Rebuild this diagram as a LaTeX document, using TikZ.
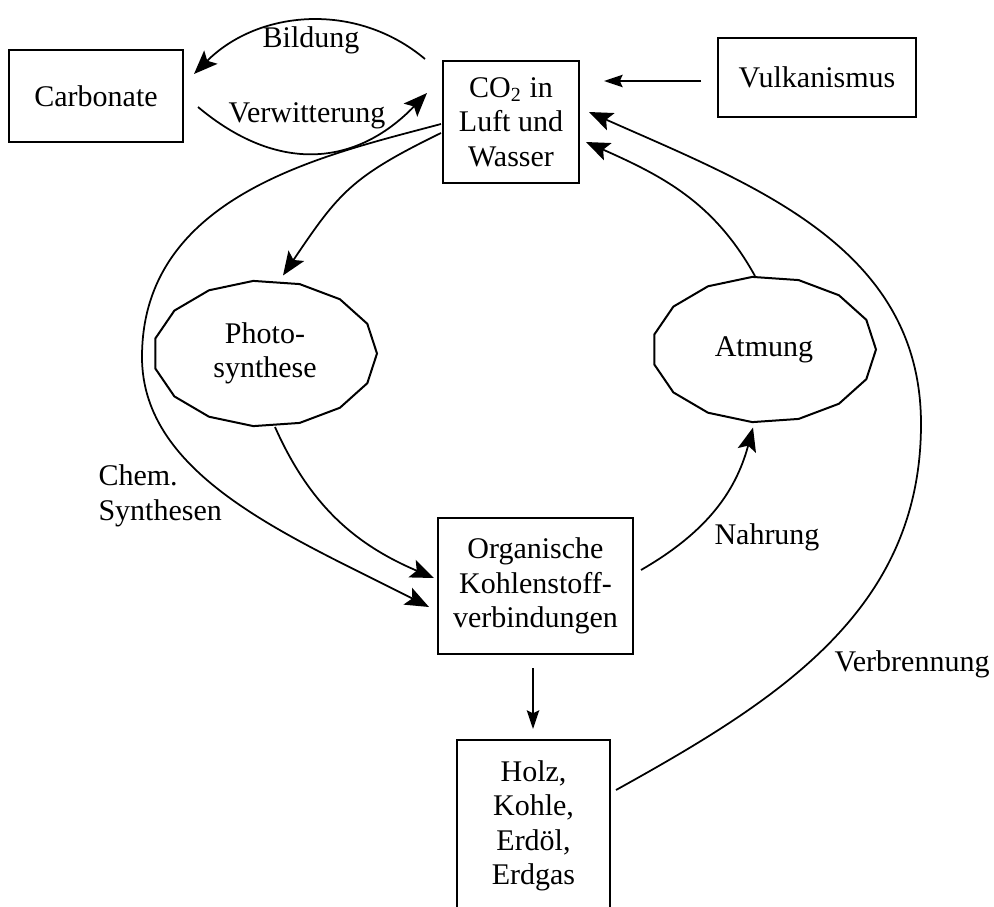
\documentclass[tikz,border=0pt]{standalone}
\usepackage{fontspec}
\setmainfont{Liberation Serif}
\usetikzlibrary{arrows.meta, shapes.geometric}

\begin{document}
\begin{tikzpicture}[x=0.4pt, y=-0.4pt, font=\fontsize{12}{13.8}\selectfont,
		box/.style={draw, line width=0.8pt, inner sep=0pt, align=center},
		blob/.style={ellipse, minimum width=89.6pt, minimum height=58.4pt, inner sep=0pt, align=center},
		lbl/.style={inner sep=0pt, align=left},
		arr/.style={-{Stealth[length=9.5pt, width=7.5pt, inset=2pt]}, line width=0.7pt},
		sarr/.style={-{Stealth[length=7.5pt, width=5pt, inset=1.2pt]}, line width=0.7pt}]
		\useasboundingbox (0,0) rectangle (994,907);
		\node[box, minimum width=69.6pt, minimum height=36.8pt] (carb) at (96,96) {Carbonate};
		\node[box, minimum width=54.4pt, minimum height=48.8pt] (co2) at (511,122) {CO\textsubscript{2} in\\Luft und\\Wasser};
		\node[box, minimum width=79.2pt, minimum height=31.6pt] (vulk) at (817,77) {Vulkanismus};
		\node[blob] (photo) at (265,353.5) {Photo-\\synthese};
		\node[blob] (atmung) at (764,349.5) {Atmung};
		\node[box, minimum width=78pt, minimum height=54.4pt] (org) at (535.5,586) {Organische\\Kohlenstoff-\\verbindungen};
		\node[box, minimum width=61.2pt, minimum height=68.8pt] (holz) at (533.5,826) {Holz,\\Kohle,\\Erdöl,\\Erdgas};
		\foreach \n in {photo, atmung} {
			\draw[line width=0.8pt, shift={(\n.center)}] plot[samples=16, domain=0:360] ({112*cos(\x)}, {73*sin(\x)}) -- cycle;
		}
		\coordinate (chemturn) at (142,357);
		\coordinate (brennturn) at (921,424);
		\draw[arr] ([shift={(-17,-1)}]co2.north west) to[out=140, in=45] ([shift={(10,-22)}]carb.east);
		\draw[arr] ([shift={(14,11)}]carb.east) to[out=-40, in=-134, looseness=1.15] ([shift={(-15,-29)}]co2.west);
		\draw[arr] ([shift={(-1,11)}]co2.west) to[out=206, in=56, looseness=1.2] ([shift={(18,-4.5)}]photo.north);
		\draw[arr] ([shift={(-1,2)}]co2.west) to[out=195, in=90, out looseness=0.8, in looseness=1.1] (chemturn) to[out=-90, in=153, out looseness=0.8, in looseness=1.05] ([shift={(-8,21)}]org.west);
		\draw[arr] ([shift={(10,0)}]photo.south) to[out=-66, in=157] ([shift={(-3,-8)}]org.west);
		\draw[arr] ([shift={(7,-16)}]org.east) to[out=30, in=-105] ([shift={(-11,4.5)}]atmung.south);
		\draw[arr] ([shift={(-9,0)}]atmung.north) to[out=119, in=-24] ([shift={(6,20)}]co2.east);
		\draw[arr] ([shift={(5,-36)}]holz.east) to[out=29, in=-90] (brennturn) to[out=90, in=-24] ([shift={(9,-10)}]co2.east);
		\draw[sarr] ([shift={(-16,4)}]vulk.west) -- ([shift={(24,-41)}]co2.east);
		\draw[sarr] ([shift={(-2.5,13)}]org.south) -- ([shift={(-0.5,-10)}]holz.north);
		\node[lbl] (bildlbl) at (311,40) {Bildung};
		\node[lbl] (verwlbl) at (307,116) {Verwitterung};
		\node[lbl, anchor=west] (chemlbl) at (98,496) {Chem.\\Synthesen};
		\node[lbl] (nahrlbl) at (767,537) {Nahrung};
		\node[lbl] (brennlbl) at (912,664) {Verbrennung};
	\end{tikzpicture}
\end{document}
